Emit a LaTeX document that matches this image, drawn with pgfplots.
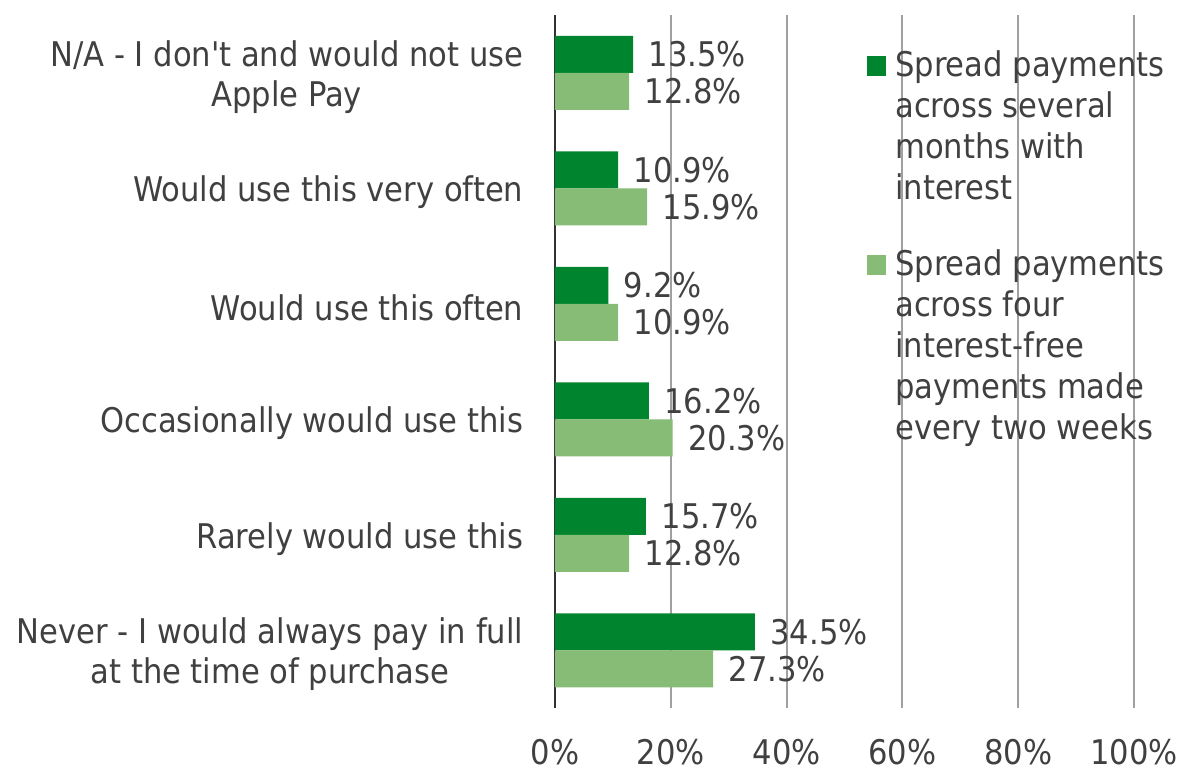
\documentclass[border=0pt]{standalone}
\usepackage{fontspec}
\setmainfont{DejaVu Sans Condensed}[Ligatures=TeXOff]
\usepackage{pgfplots}
\pgfplotsset{compat=1.18}

\definecolor{darkgr}{RGB}{0,132,45}
\definecolor{lightgr}{RGB}{134,188,118}
\definecolor{txt}{RGB}{64,64,64}
\definecolor{gridc}{RGB}{160,160,160}
\definecolor{axisc}{RGB}{50,50,50}

% y = 0 is the bottom category, y = 5 the top one
\pgfplotstableread{
y  interest  fourpay
0  34.5      27.3
1  15.7      12.8
2  16.2      20.3
3   9.2      10.9
4  10.9      15.9
5  13.5      12.8
}\datatable

\begin{document}
\fontsize{17pt}{20pt}\selectfont
\begin{tikzpicture}
\path[use as bounding box] (-277.5pt,-30pt) rectangle (311pt,354pt);
\begin{axis}[
  at={(0pt,0pt)}, anchor=south west,
  scale only axis, width=289.5pt, height=346.5pt,
  xbar, bar width=18.5pt,
  xmin=0, xmax=100, ymin=-0.5, ymax=5.5,
  axis x line*=bottom, axis y line*=left,
  x axis line style={draw=none},
  y axis line style={draw=axisc, line width=1.2pt},
  xtick={0,20,40,60,80,100},
  xticklabel={\raisebox{0pt}[\height][0pt]{\pgfmathprintnumber{\tick}\%}},
  ytick={0,1,2,3,4,5},
  yticklabels={
    {Never - I would always pay in full\\at the time of purchase},
    {Rarely would use this},
    {Occasionally would use this},
    {Would use this often},
    {Would use this very often},
    {N/A - I don't and would not use\\Apple Pay}},
  major tick length=0pt,
  xmajorgrids, major grid style={draw=gridc, line width=1pt},
  tick label style={text=txt},
  yticklabel style={align=center, xshift=-10pt, yshift=-2pt},
  xticklabel style={anchor=base, inner sep=0pt, yshift=-28pt},
  /pgf/number format/assume math mode=true,
  point meta=x,
  nodes near coords={\pgfmathprintnumber[fixed,fixed zerofill,precision=1]{\pgfplotspointmeta}\%},
  nodes near coords style={text=txt, anchor=west, xshift=2pt},
  legend image code/.code={\fill[#1] (0pt,0pt) rectangle (9.5pt,10pt);},
  legend style={at={(rel axis cs:0.53,1)}, anchor=north west,
    xshift=2.5pt, yshift=-15.5pt,
    draw=none, fill=none, text=txt, inner sep=0pt,
    row sep=80pt, column sep=2.5pt,
    cells={anchor=base west, inner sep=0pt}},
  clip=false,
]
\addplot[fill=darkgr, draw=none, bar shift=9.25pt]
  table[x=interest, y=y] {\datatable};
\addlegendentry{\parbox[t]{150pt}{\baselineskip=20.5pt\raggedright Spread payments\\across several\\months with\\interest}}
\addplot[fill=lightgr, draw=none, bar shift=-9.25pt]
  table[x=fourpay, y=y] {\datatable};
\addlegendentry{\parbox[t]{150pt}{\baselineskip=20.5pt\raggedright Spread payments\\across four\\interest-free\\payments made\\every two weeks}}
\end{axis}
\end{tikzpicture}
\end{document}
